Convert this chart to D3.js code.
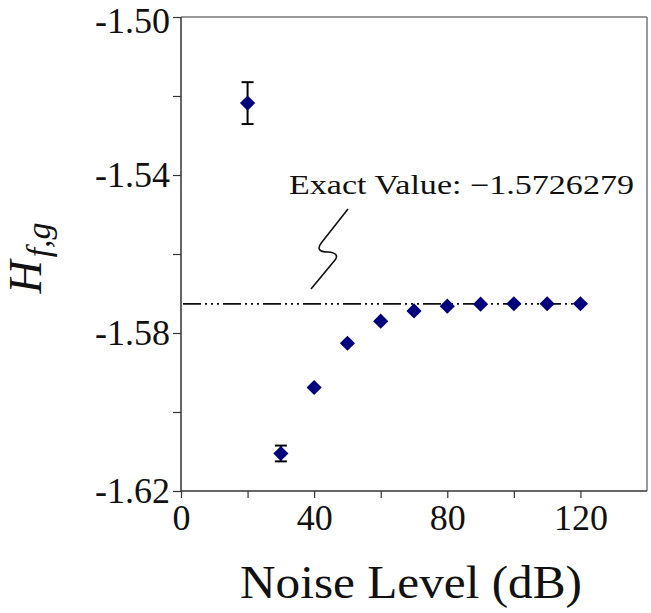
<!DOCTYPE html>
<html><head><meta charset="utf-8">
<script src="https://cdn.jsdelivr.net/npm/d3@7/dist/d3.min.js"></script>
<style>body{margin:0;background:#fff}svg{display:block}</style>
</head><body>
<script>
const noiseLevels = [20, 30, 40, 50, 60, 70, 80, 90, 100, 110, 120];
const hValues = [-1.5218, -1.6105, -1.5938, -1.5826, -1.5770, -1.5744, -1.5732, -1.5727, -1.5726, -1.5726, -1.5726];
const hErrors = [0.0053, 0.0020, 0.0004, 0, 0, 0, 0, 0, 0, 0, 0];
const exactValue = -1.5726279;
const xTickValues = [0, 20, 40, 60, 80, 100, 120];
const xTickLabels = ["0", "", "40", "", "80", "", "120"];
const yTickValues = [-1.50, -1.52, -1.54, -1.56, -1.58, -1.60, -1.62];
const yTickLabels = ["-1.50", "", "-1.54", "", "-1.58", "", "-1.62"];

const W = 651, H = 613;
const svg = d3.select("body").append("svg").attr("width", W).attr("height", H);
const x = d3.scaleLinear().domain([0, 140]).range([181, 647]);
const y = d3.scaleLinear().domain([-1.62, -1.50]).range([491, 17]);
const serif = "'Liberation Serif', 'Times New Roman', serif";

// frame top/right
svg.append("line").attr("x1", x(0)).attr("x2", x(140)).attr("y1", y(-1.50)).attr("y2", y(-1.50)).attr("stroke", "#777").attr("stroke-width", 1.5);
svg.append("line").attr("x1", x(140)).attr("x2", x(140)).attr("y1", y(-1.50)).attr("y2", y(-1.62)).attr("stroke", "#777").attr("stroke-width", 1.5);

// axes
const xAxis = d3.axisBottom(x).tickValues(xTickValues).tickSize(7).tickPadding(6)
  .tickFormat((d, i) => xTickLabels[i]);
const gx = svg.append("g").attr("transform", `translate(0,${y(-1.62)})`).call(xAxis);
gx.select(".domain").attr("d", `M${x(0)},0H${x(140)}`).attr("stroke", "#333").attr("stroke-width", 1.5);
gx.selectAll(".tick line").attr("stroke", "#333").attr("stroke-width", 1.2);
gx.selectAll("text").attr("font-family", serif).attr("font-size", 36).attr("fill", "#111");

const yAxis = d3.axisLeft(y).tickValues(yTickValues).tickSize(8).tickPadding(3)
  .tickFormat((d, i) => yTickLabels[i]);
const gy = svg.append("g").attr("transform", `translate(${x(0)},0)`).call(yAxis);
gy.select(".domain").attr("d", `M0,${y(-1.50)}V${y(-1.62)}`).attr("stroke", "#333").attr("stroke-width", 1.5);
gy.selectAll(".tick line").attr("stroke", "#333").attr("stroke-width", 1.2);
gy.selectAll("text").attr("font-family", serif).attr("font-size", 36).attr("fill", "#111")
  .attr("dy", d => d === -1.50 ? "0.44em" : "0.32em");

// exact value reference line
svg.append("line")
  .attr("x1", x(0) + 2).attr("x2", x(122))
  .attr("y1", y(exactValue)).attr("y2", y(exactValue))
  .attr("stroke", "#111").attr("stroke-width", 1.8)
  .attr("stroke-dasharray", "18,4,2,4,2,4,2,4");

// annotation
svg.append("text").attr("x", 289).attr("y", 194)
  .attr("font-family", serif).attr("font-size", 27).attr("fill", "#111")
  .attr("textLength", 345).attr("lengthAdjust", "spacingAndGlyphs")
  .text("Exact Value: \u22121.5726279");
svg.append("path")
  .attr("d", "M348,209 L322,242 Q314,252 328,252 Q340,253 335,260 L311,289")
  .attr("fill", "none").attr("stroke", "#111").attr("stroke-width", 1.6);

// error bars
const pts = noiseLevels.map((n, i) => ({n, v: hValues[i], e: hErrors[i]}));
const eb = svg.append("g").selectAll("g").data(pts.filter(d => d.e > 0.001)).join("g");
eb.append("line").attr("x1", d => x(d.n)).attr("x2", d => x(d.n))
  .attr("y1", d => y(d.v - d.e)).attr("y2", d => y(d.v + d.e)).attr("stroke", "#000").attr("stroke-width", 2);
eb.append("line").attr("x1", d => x(d.n) - 6).attr("x2", d => x(d.n) + 6)
  .attr("y1", d => y(d.v + d.e)).attr("y2", d => y(d.v + d.e)).attr("stroke", "#000").attr("stroke-width", 2);
eb.append("line").attr("x1", d => x(d.n) - 6).attr("x2", d => x(d.n) + 6)
  .attr("y1", d => y(d.v - d.e)).attr("y2", d => y(d.v - d.e)).attr("stroke", "#000").attr("stroke-width", 2);

// markers
const sym = d3.symbol().type(d3.symbolSquare).size(115);
svg.append("g").selectAll("path").data(pts).join("path")
  .attr("d", sym)
  .attr("transform", d => `translate(${x(d.n)},${y(d.v)}) rotate(45)`)
  .attr("fill", "#00007f");

// axis titles
svg.append("text").attr("x", 411).attr("y", 598).attr("text-anchor", "middle")
  .attr("font-family", serif).attr("font-size", 46).attr("fill", "#111")
  .attr("textLength", 342).attr("lengthAdjust", "spacingAndGlyphs")
  .text("Noise Level (dB)");
const yl = svg.append("text").attr("transform", "translate(41,258) rotate(-90)")
  .attr("text-anchor", "middle").attr("font-family", serif).attr("font-style", "italic").attr("fill", "#111");
yl.append("tspan").attr("font-size", 46).text("H");
yl.append("tspan").attr("font-size", 34).attr("dx", 3).attr("dy", 9).text("f,g");
</script>
</body></html>
